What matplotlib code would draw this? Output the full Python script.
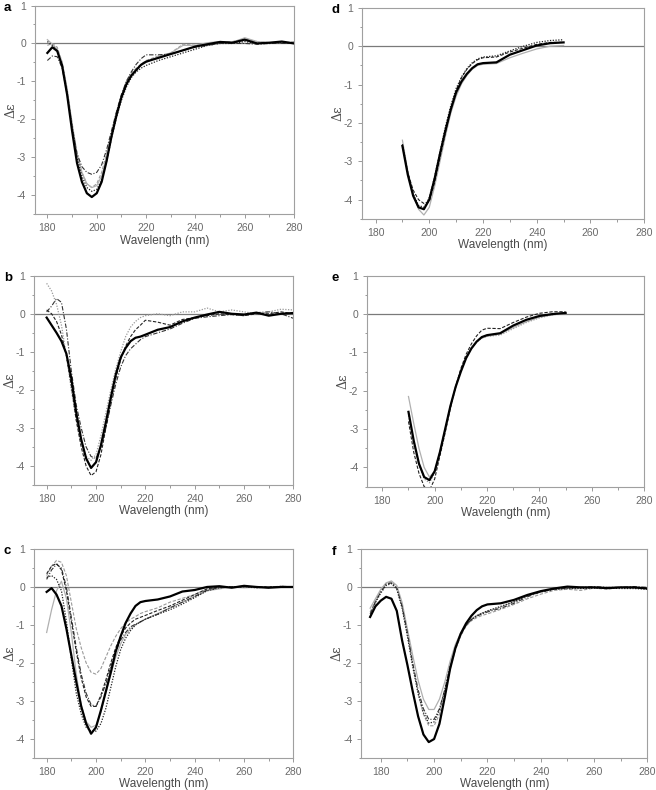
"""CD spectra, six panels (a-f), Delta-epsilon vs wavelength."""
import matplotlib
matplotlib.use("Agg")
import matplotlib.pyplot as plt
from matplotlib.ticker import MultipleLocator

plt.rcParams["axes.unicode_minus"] = False

# wavelength grids (nm)
WL_FULL = [180, 182, 184, 186, 188, 190, 192, 194, 196, 198, 200, 202, 204, 206, 208, 210,
           212, 214, 216, 218, 220, 225, 230, 235, 240, 245, 250, 255, 260, 265, 270, 275, 280]
WL_SHORT = [190, 192, 194, 196, 198, 200, 202, 204, 206, 208, 210, 212, 214, 216, 218, 220,
            225, 230, 235, 240, 245, 250]
WL_F = [176, 178] + WL_FULL

# panel a
A_BLACK = [-0.25, -0.1, -0.2, -0.6, -1.35, -2.3, -3.15, -3.65, -3.95, -4.05, -3.95, -3.65, -3.1, -2.45,
           -1.9, -1.42, -1.08, -0.85, -0.7, -0.56, -0.48, -0.38, -0.28, -0.18, -0.08, -0.02, 0.04, 0.02,
           0.1, 0.0, 0.02, 0.05, 0.0]
A_DASHDOT = [-0.45, -0.33, -0.35, -0.65, -1.35, -2.2, -2.9, -3.25, -3.4, -3.45, -3.4, -3.2, -2.8, -2.3,
             -1.8, -1.35, -1.0, -0.75, -0.55, -0.4, -0.3, -0.3, -0.28, -0.18, -0.1, -0.05, 0.0, 0.0,
             0.0, -0.02, 0.0, 0.0, 0.0]
A_GRAY = [0.1, -0.02, -0.15, -0.5, -1.2, -2.1, -2.9, -3.4, -3.7, -3.8, -3.75, -3.5, -3.0, -2.4,
          -1.85, -1.4, -1.05, -0.82, -0.68, -0.58, -0.5, -0.35, -0.25, -0.05, -0.05, 0.02, 0.05, 0.03,
          0.15, 0.05, 0.02, 0.03, 0.02]
A_DOT = [0.05, -0.05, -0.2, -0.55, -1.3, -2.2, -3.0, -3.5, -3.8, -3.9, -3.85, -3.6, -3.1, -2.5,
         -1.95, -1.5, -1.15, -0.9, -0.75, -0.65, -0.58, -0.45, -0.35, -0.25, -0.15, -0.05, 0.0, 0.0,
         0.05, 0.0, 0.0, 0.02, 0.0]
A_GRAYDASH = [-0.05, 0.0, -0.1, -0.5, -1.2, -2.1, -2.9, -3.4, -3.7, -3.8, -3.7, -3.4, -2.9, -2.35,
              -1.8, -1.35, -1.0, -0.78, -0.65, -0.55, -0.45, -0.33, -0.25, -0.02, -0.05, 0.0, 0.05, 0.05,
              0.12, 0.05, 0.02, 0.0, 0.05]

# panel b
B_BLACK = [-0.1, -0.3, -0.5, -0.72, -1.05, -1.7, -2.6, -3.3, -3.8, -4.05, -3.9, -3.45, -2.85, -2.2,
           -1.6, -1.15, -0.9, -0.72, -0.63, -0.6, -0.55, -0.42, -0.35, -0.2, -0.1, -0.02, 0.05, 0.0,
           -0.02, 0.03, -0.05, 0.0, 0.02]
B_GRAYDOT = [0.8, 0.6, 0.25, -0.3, -1.1, -2.0, -2.8, -3.4, -3.75, -3.85, -3.7, -3.2, -2.6, -2.0,
             -1.45, -1.0, -0.6, -0.35, -0.2, -0.1, -0.05, 0.0, -0.05, 0.05, 0.05, 0.15, 0.05, 0.1,
             0.05, 0.0, 0.05, 0.12, 0.1]
B_DASHDOT = [0.05, 0.2, 0.4, 0.3, -0.4, -1.5, -2.4, -3.0, -3.5, -3.75, -3.8, -3.5, -3.0, -2.4,
             -1.85, -1.4, -1.1, -0.92, -0.8, -0.68, -0.6, -0.5, -0.4, -0.25, -0.12, -0.08, -0.05, -0.02,
             -0.05, 0.03, 0.05, 0.0, -0.12]
B_DASH = [0.1, 0.0, -0.2, -0.55, -1.1, -1.9, -2.8, -3.5, -4.0, -4.25, -4.15, -3.7, -3.0, -2.3,
          -1.7, -1.2, -0.85, -0.6, -0.42, -0.3, -0.17, -0.22, -0.3, -0.15, -0.1, -0.05, 0.0, -0.02,
          -0.05, 0.0, 0.0, 0.05, 0.0]

# panel c
C_BLACK = [-0.13, -0.03, -0.2, -0.5, -1.1, -1.8, -2.5, -3.15, -3.6, -3.87, -3.7, -3.25, -2.75, -2.25,
           -1.7, -1.3, -0.95, -0.7, -0.5, -0.4, -0.37, -0.33, -0.25, -0.12, -0.08, 0.0, 0.02, -0.02,
           0.03, 0.0, -0.02, 0.0, 0.0]
C_GRAY = [-1.2, -0.6, -0.1, 0.15, -0.3, -1.2, -2.3, -3.1, -3.55, -3.7, -3.65, -3.3, -2.8, -2.3,
          -1.85, -1.5, -1.25, -1.1, -1.0, -0.92, -0.85, -0.7, -0.55, -0.4, -0.25, -0.1, -0.05, 0.0,
          -0.02, 0.0, 0.0, 0.0, 0.0]
C_GRAYDASH = [0.3, 0.55, 0.7, 0.65, 0.3, -0.4, -1.1, -1.6, -2.0, -2.25, -2.3, -2.15, -1.85, -1.55,
              -1.3, -1.1, -0.95, -0.85, -0.78, -0.7, -0.65, -0.55, -0.4, -0.3, -0.2, -0.05, 0.0, 0.0,
              0.02, -0.02, 0.0, 0.02, 0.0]
C_DASHDOT = [0.2, 0.45, 0.6, 0.5, 0.0, -0.8, -1.6, -2.3, -2.8, -3.1, -3.15, -2.9, -2.55, -2.1,
             -1.7, -1.4, -1.2, -1.05, -0.98, -0.92, -0.85, -0.72, -0.55, -0.4, -0.25, -0.08, -0.02, 0.0,
             0.0, 0.0, -0.02, 0.02, 0.0]
C_DASH = [0.35, 0.55, 0.62, 0.45, -0.1, -0.9, -1.7, -2.4, -2.9, -3.15, -3.15, -2.85, -2.45, -2.0,
          -1.6, -1.3, -1.08, -0.95, -0.85, -0.8, -0.75, -0.62, -0.5, -0.35, -0.2, -0.05, 0.0, 0.0,
          0.02, 0.0, 0.0, 0.0, 0.0]
C_DOT = [0.25, 0.3, 0.2, -0.1, -0.9, -1.9, -2.8, -3.35, -3.7, -3.8, -3.8, -3.6, -3.2, -2.65,
         -2.1, -1.65, -1.35, -1.15, -1.0, -0.92, -0.85, -0.72, -0.6, -0.45, -0.28, -0.1, -0.02, 0.0,
         0.0, -0.02, 0.0, 0.0, 0.0]

# panel d
D_BLACK = [-2.6, -3.35, -3.9, -4.2, -4.25, -4.0, -3.45, -2.8, -2.2, -1.65, -1.2, -0.92, -0.72, -0.57,
           -0.47, -0.44, -0.42, -0.22, -0.1, 0.02, 0.08, 0.1]
D_GRAY = [-2.45, -3.25, -3.85, -4.25, -4.4, -4.2, -3.65, -3.0, -2.35, -1.75, -1.3, -0.98, -0.76, -0.6,
          -0.5, -0.47, -0.45, -0.3, -0.18, -0.07, 0.0, 0.02]
D_DASH = [-2.6, -3.3, -3.75, -4.0, -4.1, -4.05, -3.55, -2.9, -2.25, -1.65, -1.15, -0.82, -0.6, -0.45,
          -0.35, -0.3, -0.28, -0.15, -0.05, 0.05, 0.1, 0.1]
D_DOT = [-2.55, -3.3, -3.85, -4.15, -4.2, -3.95, -3.4, -2.75, -2.1, -1.55, -1.1, -0.8, -0.58, -0.43,
         -0.33, -0.28, -0.25, -0.12, 0.0, 0.1, 0.15, 0.17]

# panel e
E_BLACK = [-2.55, -3.3, -3.9, -4.25, -4.33, -4.1, -3.6, -3.0, -2.4, -1.9, -1.5, -1.15, -0.9, -0.72,
           -0.6, -0.55, -0.5, -0.3, -0.15, -0.05, 0.0, 0.03]
E_GRAY = [-2.15, -2.85, -3.5, -4.0, -4.25, -4.1, -3.6, -3.0, -2.4, -1.88, -1.45, -1.12, -0.88, -0.72,
          -0.62, -0.58, -0.52, -0.35, -0.2, -0.08, -0.02, 0.02]
E_DASH = [-2.8, -3.6, -4.15, -4.5, -4.6, -4.3, -3.7, -3.1, -2.45, -1.9, -1.42, -1.05, -0.78, -0.57,
          -0.42, -0.37, -0.38, -0.22, -0.08, 0.02, 0.06, 0.06]
E_GRAYDOT = [-2.65, -3.4, -3.95, -4.3, -4.4, -4.15, -3.65, -3.05, -2.45, -1.92, -1.48, -1.13, -0.9, -0.73,
             -0.63, -0.58, -0.55, -0.38, -0.22, -0.1, -0.02, 0.02]

# panel f
F_BLACK = [-0.78, -0.5, -0.35, -0.25, -0.3, -0.62, -1.4, -2.05, -2.75, -3.4, -3.88, -4.08, -4.0, -3.6,
           -2.9, -2.15, -1.6, -1.22, -0.95, -0.75, -0.6, -0.5, -0.45, -0.42, -0.33, -0.2, -0.1, -0.03,
           0.02, 0.0, 0.0, -0.02, 0.0, 0.0, -0.03]
F_GRAY = [-0.55, -0.3, -0.05, 0.12, 0.17, 0.05, -0.4, -1.1, -1.8, -2.45, -2.95, -3.22, -3.22, -2.95,
          -2.5, -1.95, -1.5, -1.2, -0.98, -0.83, -0.74, -0.68, -0.63, -0.52, -0.38, -0.22, -0.12, -0.05,
          -0.03, -0.02, 0.0, 0.0, 0.0, 0.0, -0.02]
F_DOT = [-0.8, -0.4, -0.15, 0.05, 0.1, -0.05, -0.55, -1.3, -2.1, -2.8, -3.3, -3.58, -3.55, -3.25,
         -2.7, -2.1, -1.6, -1.25, -1.0, -0.85, -0.75, -0.68, -0.62, -0.5, -0.38, -0.22, -0.12, -0.05,
         -0.03, -0.03, -0.02, -0.02, -0.03, -0.03, -0.05]
F_GRAYDASH = [-0.65, -0.35, -0.1, 0.1, 0.15, 0.0, -0.5, -1.25, -2.05, -2.8, -3.35, -3.65, -3.65, -3.35,
              -2.8, -2.15, -1.65, -1.28, -1.02, -0.88, -0.8, -0.74, -0.7, -0.58, -0.45, -0.3, -0.18, -0.08,
              -0.05, -0.08, -0.02, -0.05, 0.0, -0.02, 0.0]
F_DASHDOT = [-0.7, -0.38, -0.12, 0.08, 0.12, -0.02, -0.5, -1.2, -2.0, -2.7, -3.2, -3.48, -3.48, -3.2,
             -2.7, -2.1, -1.6, -1.25, -1.0, -0.85, -0.76, -0.7, -0.65, -0.55, -0.42, -0.25, -0.12, -0.05,
             -0.02, 0.0, 0.02, 0.0, 0.0, 0.02, 0.0]

STYLES = {
    "black": dict(color="black", lw=1.6, ls="-"),
    "gray": dict(color="#b0b0b0", lw=0.9, ls="-"),
    "dash": dict(color="#222222", lw=0.8, ls=(0, (3, 1.5))),
    "dot": dict(color="#222222", lw=0.9, ls=(0, (1, 1.2))),
    "dashdot": dict(color="#333333", lw=0.8, ls=(0, (4, 1.5, 1, 1.5))),
    "graydash": dict(color="#9a9a9a", lw=0.8, ls=(0, (3, 1.5))),
    "graydot": dict(color="#9a9a9a", lw=0.9, ls=(0, (1, 1.2))),
}

# label, axes rect [left, bottom, width, height], xlim left, wavelengths, series
PANELS = [
    ("a", [0.0534, 0.729, 0.395, 0.264], 175, WL_FULL,
     [("graydash", A_GRAYDASH), ("gray", A_GRAY), ("dot", A_DOT), ("dashdot", A_DASHDOT), ("black", A_BLACK)]),
    ("b", [0.0523, 0.386, 0.395, 0.265], 175, WL_FULL,
     [("graydot", B_GRAYDOT), ("dashdot", B_DASHDOT), ("dash", B_DASH), ("black", B_BLACK)]),
    ("c", [0.0523, 0.041, 0.395, 0.264], 175, WL_FULL,
     [("gray", C_GRAY), ("graydash", C_GRAYDASH), ("dashdot", C_DASHDOT), ("dash", C_DASH),
      ("dot", C_DOT), ("black", C_BLACK)]),
    ("d", [0.552, 0.723, 0.430, 0.267], 175, WL_SHORT,
     [("gray", D_GRAY), ("dash", D_DASH), ("dot", D_DOT), ("black", D_BLACK)]),
    ("e", [0.560, 0.384, 0.422, 0.267], 174.3, WL_SHORT,
     [("gray", E_GRAY), ("graydot", E_GRAYDOT), ("dash", E_DASH), ("black", E_BLACK)]),
    ("f", [0.5508, 0.0405, 0.436, 0.264], 172.7, WL_F,
     [("gray", F_GRAY), ("graydash", F_GRAYDASH), ("dashdot", F_DASHDOT), ("dot", F_DOT), ("black", F_BLACK)]),
]

fig = plt.figure(figsize=(6.56, 7.90), dpi=100)

for label, rect, x0, wl, series in PANELS:
    ax = fig.add_axes(rect)
    ax.axhline(0, color="#7a7a7a", lw=0.9, zorder=1)
    for style, vals in series:
        ax.plot(wl, vals, zorder=3, **STYLES[style])
    ax.set_xlim(x0, 280)
    ax.set_ylim(-4.5, 1)
    ax.xaxis.set_major_locator(MultipleLocator(20))
    ax.xaxis.set_minor_locator(MultipleLocator(10))
    ax.yaxis.set_major_locator(MultipleLocator(1))
    ax.yaxis.set_minor_locator(MultipleLocator(0.5))
    ax.tick_params(which="both", direction="out", color="#999999", labelcolor="#6a6a6a",
                   labelsize=7.5, width=0.7)
    ax.tick_params(which="major", length=3)
    ax.tick_params(which="minor", length=1.8)
    for sp in ax.spines.values():
        sp.set_color("#a0a0a0")
        sp.set_linewidth(0.8)
    ax.set_xlabel("Wavelength (nm)", fontsize=8.5, color="#4a4a4a", labelpad=1,
                  family="Liberation Sans")
    ax.set_ylabel("\u0394\u03b5", fontsize=9, color="#4a4a4a", family="DejaVu Serif")
    for t in ax.get_xticklabels() + ax.get_yticklabels():
        t.set_family("Liberation Sans")
    pos = ax.get_position()
    left_col = pos.x0 < 0.3
    # y label: right edge ~18 px left of the spine
    ax.yaxis.set_label_coords(-18.0 / (pos.width * 656), 0.5)
    fx = 0.006 if left_col else 0.505
    fig.text(fx, pos.y1 - 0.003, label, fontsize=9.5, fontweight="bold", family="Liberation Sans",
             va="center")

fig.savefig("out.png", dpi=100)
